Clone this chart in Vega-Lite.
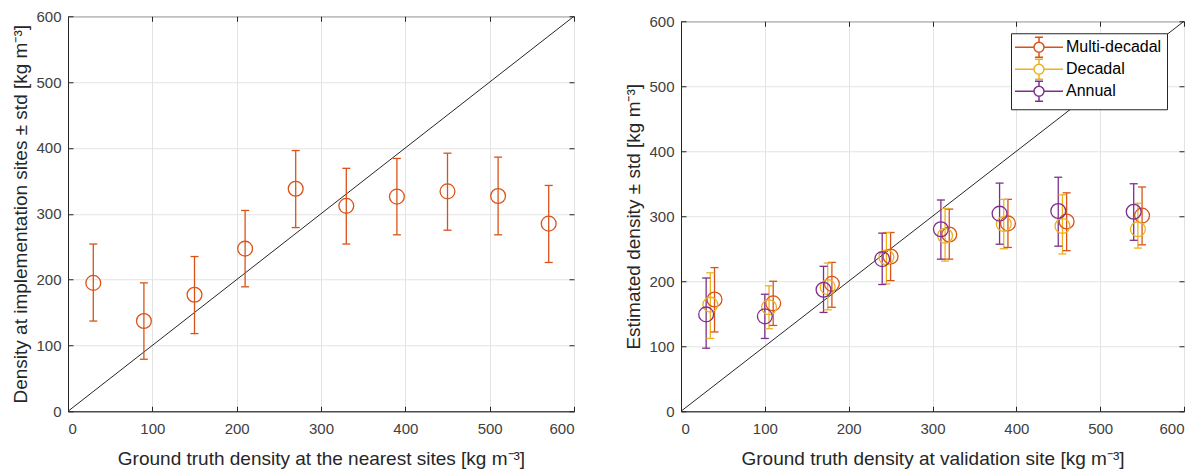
{
  "$schema": "https://vega.github.io/schema/vega-lite/v6.json",
  "background": "white",
  "padding": {"left": 11, "top": 8, "right": 10, "bottom": 2},
  "spacing": 46,
  "center": true,
  "resolve": {"scale": {"color": "independent"}, "legend": {"color": "independent"}},
  "config": {
    "font": "Liberation Sans",
    "view": {"stroke": "#262626", "strokeWidth": 1},
    "axis": {
      "labelFont": "Liberation Sans",
      "labelFontSize": 15,
      "labelColor": "#404040",
      "titleFont": "Liberation Sans",
      "titleFontSize": 19,
      "titleFontWeight": "normal",
      "titleColor": "#262626",
      "gridColor": "#e3e3e3",
      "domainColor": "#262626",
      "tickColor": "#262626",
      "tickSize": -5,
      "labelPadding": 12,
      "titlePadding": 5
    },
    "axisX": {"labelPadding": 15, "titlePadding": 13}
  },
  "datasets": {
    "diag": [{"x": 0, "y": 0}, {"x": 600, "y": 600}],
    "left": [
      {"x": 30, "y": 195, "lo": 137, "hi": 254},
      {"x": 90, "y": 137, "lo": 79, "hi": 195},
      {"x": 150, "y": 177, "lo": 118, "hi": 235},
      {"x": 210, "y": 247, "lo": 189, "hi": 305},
      {"x": 270, "y": 338, "lo": 279, "hi": 396},
      {"x": 330, "y": 312, "lo": 254, "hi": 369},
      {"x": 390, "y": 326, "lo": 268, "hi": 384},
      {"x": 450, "y": 334, "lo": 275, "hi": 392},
      {"x": 510, "y": 327, "lo": 268, "hi": 386},
      {"x": 570, "y": 285, "lo": 226, "hi": 343}
    ],
    "right": [
      {"series": "Multi-decadal", "x": 40, "y": 172, "lo": 122, "hi": 221},
      {"series": "Multi-decadal", "x": 110, "y": 166, "lo": 132, "hi": 200},
      {"series": "Multi-decadal", "x": 180, "y": 196, "lo": 160, "hi": 229},
      {"series": "Multi-decadal", "x": 250, "y": 238, "lo": 201, "hi": 275},
      {"series": "Multi-decadal", "x": 320, "y": 272, "lo": 234, "hi": 311},
      {"series": "Multi-decadal", "x": 390, "y": 289, "lo": 252, "hi": 326},
      {"series": "Multi-decadal", "x": 460, "y": 292, "lo": 247, "hi": 336},
      {"series": "Multi-decadal", "x": 550, "y": 301, "lo": 256, "hi": 345},
      {"series": "Decadal", "x": 35, "y": 164, "lo": 112, "hi": 213},
      {"series": "Decadal", "x": 105, "y": 160, "lo": 127, "hi": 193},
      {"series": "Decadal", "x": 175, "y": 191, "lo": 156, "hi": 228},
      {"series": "Decadal", "x": 245, "y": 237, "lo": 196, "hi": 275},
      {"series": "Decadal", "x": 315, "y": 270, "lo": 231, "hi": 312},
      {"series": "Decadal", "x": 385, "y": 288, "lo": 250, "hi": 326},
      {"series": "Decadal", "x": 455, "y": 285, "lo": 242, "hi": 333},
      {"series": "Decadal", "x": 545, "y": 280, "lo": 251, "hi": 320},
      {"series": "Annual", "x": 30, "y": 149, "lo": 97, "hi": 205},
      {"series": "Annual", "x": 100, "y": 146, "lo": 112, "hi": 180},
      {"series": "Annual", "x": 170, "y": 187, "lo": 152, "hi": 223},
      {"series": "Annual", "x": 240, "y": 234, "lo": 195, "hi": 274},
      {"series": "Annual", "x": 310, "y": 280, "lo": 234, "hi": 325},
      {"series": "Annual", "x": 380, "y": 304, "lo": 257, "hi": 351},
      {"series": "Annual", "x": 450, "y": 308, "lo": 254, "hi": 360},
      {"series": "Annual", "x": 540, "y": 307, "lo": 263, "hi": 350}
    ]
  },
  "hconcat": [
    {
      "width": 506,
      "height": 395,
      "title": {"text": " ", "orient": "bottom", "fontSize": 1, "offset": 4},
      "resolve": {"axis": {"x": "independent", "y": "independent"}},
      "layer": [
        {
          "data": {"name": "diag"},
          "mark": {"type": "line", "color": "#262626", "strokeWidth": 1},
          "encoding": {
            "x": {"field": "x", "type": "quantitative", "scale": {"domain": [0, 600], "nice": false},
              "axis": {"orient": "bottom", "values": [0, 100, 200, 300, 400, 500, 600], "title": "Ground truth density at the nearest sites [kg m⁻³]"}},
            "y": {"field": "y", "type": "quantitative", "scale": {"domain": [0, 600], "nice": false},
              "axis": {"orient": "left", "values": [0, 100, 200, 300, 400, 500, 600], "title": "Density at implementation sites ± std [kg m⁻³]"}}
          }
        },
        {
          "data": {"name": "diag"},
          "mark": {"type": "point", "opacity": 0},
          "encoding": {
            "x": {"field": "x", "type": "quantitative",
              "axis": {"orient": "top", "values": [0, 100, 200, 300, 400, 500, 600], "labels": false, "grid": false, "domain": false, "title": null, "minExtent": 0, "maxExtent": 0}},
            "y": {"field": "y", "type": "quantitative",
              "axis": {"orient": "right", "values": [0, 100, 200, 300, 400, 500, 600], "labels": false, "grid": false, "domain": false, "title": null, "minExtent": 0, "maxExtent": 0}}
          }
        },
        {
          "data": {"name": "left"},
          "mark": {"type": "rule", "color": "#D95319", "strokeWidth": 1.3},
          "encoding": {
            "x": {"field": "x", "type": "quantitative", "axis": null},
            "y": {"field": "lo", "type": "quantitative", "axis": null},
            "y2": {"field": "hi"}
          }
        },
        {
          "data": {"name": "left"},
          "mark": {"type": "rule", "color": "#D95319", "strokeWidth": 1.3, "xOffset": -4, "x2Offset": 4},
          "encoding": {
            "x": {"field": "x", "type": "quantitative", "axis": null},
            "x2": {"field": "x"},
            "y": {"field": "lo", "type": "quantitative", "axis": null}
          }
        },
        {
          "data": {"name": "left"},
          "mark": {"type": "rule", "color": "#D95319", "strokeWidth": 1.3, "xOffset": -4, "x2Offset": 4},
          "encoding": {
            "x": {"field": "x", "type": "quantitative", "axis": null},
            "x2": {"field": "x"},
            "y": {"field": "hi", "type": "quantitative", "axis": null}
          }
        },
        {
          "data": {"name": "left"},
          "mark": {"type": "point", "shape": "circle", "filled": false, "size": 220, "strokeWidth": 1.3, "color": "#D95319", "opacity": 1},
          "encoding": {
            "x": {"field": "x", "type": "quantitative", "axis": null},
            "y": {"field": "y", "type": "quantitative", "axis": null}
          }
        }
      ]
    },
    {
      "width": 503,
      "height": 390,
      "resolve": {"axis": {"x": "independent", "y": "independent"}},
      "layer": [
        {
          "data": {"name": "diag"},
          "mark": {"type": "line", "color": "#262626", "strokeWidth": 1},
          "encoding": {
            "x": {"field": "x", "type": "quantitative", "scale": {"domain": [0, 600], "nice": false},
              "axis": {"orient": "bottom", "values": [0, 100, 200, 300, 400, 500, 600], "title": "Ground truth density at validation site [kg m⁻³]"}},
            "y": {"field": "y", "type": "quantitative", "scale": {"domain": [0, 600], "nice": false},
              "axis": {"orient": "left", "values": [0, 100, 200, 300, 400, 500, 600], "title": "Estimated density ± std [kg m⁻³]"}}
          }
        },
        {
          "data": {"name": "diag"},
          "mark": {"type": "point", "opacity": 0},
          "encoding": {
            "x": {"field": "x", "type": "quantitative",
              "axis": {"orient": "top", "values": [0, 100, 200, 300, 400, 500, 600], "labels": false, "grid": false, "domain": false, "title": null, "minExtent": 0, "maxExtent": 0}},
            "y": {"field": "y", "type": "quantitative",
              "axis": {"orient": "right", "values": [0, 100, 200, 300, 400, 500, 600], "labels": false, "grid": false, "domain": false, "title": null, "minExtent": 0, "maxExtent": 0}}
          }
        },
        {
          "data": {"name": "right"},
          "mark": {"type": "rule", "strokeWidth": 1.3},
          "encoding": {
            "x": {"field": "x", "type": "quantitative", "axis": null},
            "y": {"field": "lo", "type": "quantitative", "axis": null},
            "y2": {"field": "hi"},
            "color": {"field": "series", "type": "nominal"}
          }
        },
        {
          "data": {"name": "right"},
          "mark": {"type": "rule", "strokeWidth": 1.3, "xOffset": -4, "x2Offset": 4},
          "encoding": {
            "x": {"field": "x", "type": "quantitative", "axis": null},
            "x2": {"field": "x"},
            "y": {"field": "lo", "type": "quantitative", "axis": null},
            "color": {"field": "series", "type": "nominal"}
          }
        },
        {
          "data": {"name": "right"},
          "mark": {"type": "rule", "strokeWidth": 1.3, "xOffset": -4, "x2Offset": 4},
          "encoding": {
            "x": {"field": "x", "type": "quantitative", "axis": null},
            "x2": {"field": "x"},
            "y": {"field": "hi", "type": "quantitative", "axis": null},
            "color": {"field": "series", "type": "nominal"}
          }
        },
        {
          "data": {"name": "right"},
          "mark": {"type": "point", "shape": "circle", "filled": false, "size": 220, "strokeWidth": 1.3, "opacity": 1},
          "encoding": {
            "x": {"field": "x", "type": "quantitative", "axis": null},
            "y": {"field": "y", "type": "quantitative", "axis": null},
            "color": {
              "field": "series", "type": "nominal",
              "scale": {"domain": ["Multi-decadal", "Decadal", "Annual"], "range": ["#D95319", "#EDB120", "#7E2F8E"]},
              "legend": {
                "title": null,
                "orient": "none",
                "legendX": 330,
                "legendY": 12,
                "symbolType": "M-1.25,0H1.125M2.375,0H4.75M1.125,0A0.625,0.625 0 1,0 2.375,0A0.625,0.625 0 1,0 1.125,0M1.75,-1.25V-0.625M1.75,0.625V1.25M1.25,-1.25H2.25M1.25,1.25H2.25",
                "symbolSize": 256,
                "symbolStrokeWidth": 1.5,
                "symbolFillColor": "transparent",
                "symbolOpacity": 1,
                "labelFontSize": 16,
                "labelFont": "Liberation Sans",
                "labelColor": "#000000",
                "fillColor": "white",
                "strokeColor": "#262626",
                "padding": 5,
                "rowPadding": -4,
                "labelOffset": 32
              }
            }
          }
        }
      ]
    }
  ]
}
